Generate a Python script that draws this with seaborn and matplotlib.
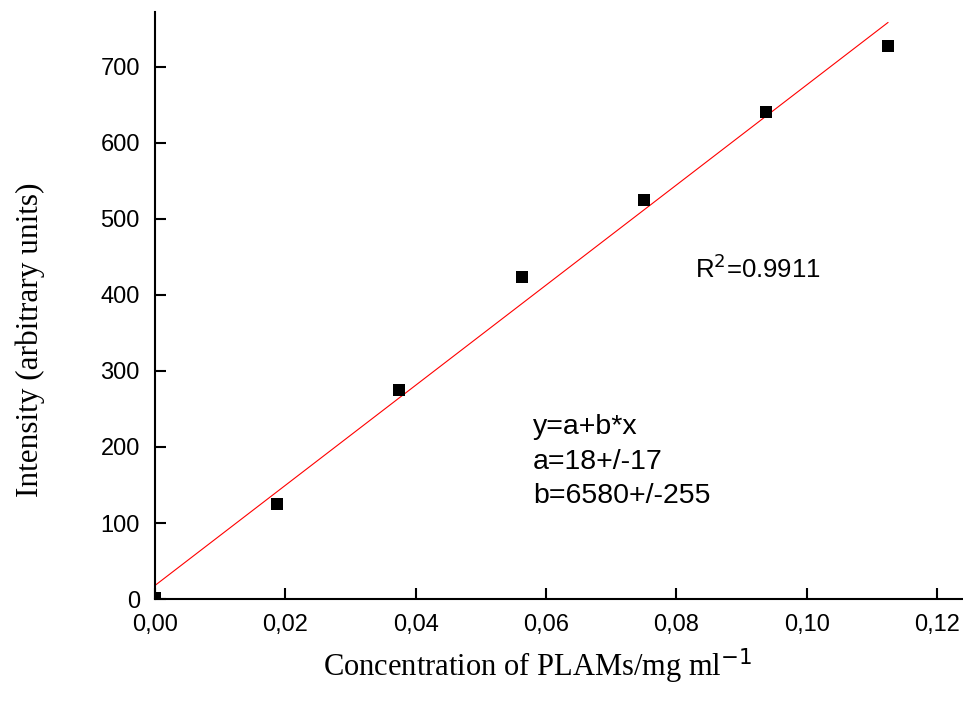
import numpy as np
import pandas as pd
import seaborn as sns
import matplotlib.pyplot as plt
from matplotlib.ticker import FuncFormatter

# measured points
conc = [0.0, 0.01875, 0.0375, 0.05625, 0.075, 0.09375, 0.1125]
intensity = [2, 125, 275, 424, 525, 640, 727]

# linear fit y = a + b*x
fit_a = 18
fit_b = 6580
fit_x = [0.0, 0.1125]

df = pd.DataFrame({"conc": conc, "intensity": intensity})
df_fit = pd.DataFrame({"conc": fit_x})
df_fit["intensity"] = fit_a + fit_b * df_fit["conc"]

sns.set_style("ticks")
plt.rcParams['font.family'] = ['Liberation Sans', 'DejaVu Sans']
plt.rcParams['text.color'] = 'black'
plt.rcParams['xtick.color'] = 'black'
plt.rcParams['ytick.color'] = 'black'
plt.rcParams['axes.edgecolor'] = 'black'

fig = plt.figure(figsize=(9.63, 7.04), dpi=100)
ax = fig.add_axes([0.161, 0.149, 0.839, 0.834])

sns.lineplot(x="conc", y="intensity", data=df_fit, color="red", linewidth=0.8, ax=ax)
sns.scatterplot(x="conc", y="intensity", data=df, marker="s", color="black",
                s=68, edgecolor="black", linewidth=0, ax=ax, zorder=3)

ax.set_xlim(0, 0.124)
ax.set_ylim(0, 772)
ax.set_xticks([0, 0.02, 0.04, 0.06, 0.08, 0.10, 0.12])
ax.set_yticks(range(0, 800, 100))
ax.xaxis.set_major_formatter(FuncFormatter(lambda v, p: f"{v:.2f}".replace(".", ",")))
ax.tick_params(direction="in", length=8, width=1.5, labelsize=17)
ax.tick_params(axis="x", pad=11)
ax.tick_params(axis="y", pad=11)
for s in ["top", "right"]:
    ax.spines[s].set_visible(False)
for s in ["left", "bottom"]:
    ax.spines[s].set_linewidth(1.5)

ax.set_xlabel("Concentration of PLAMs/mg ml$^{-1}$", family="Liberation Serif",
              fontsize=22, va="baseline", color="black")
ax.set_ylabel("Intensity (arbitrary units)", family="Liberation Serif",
              fontsize=22.5, va="center", ha="center", color="black")
ax.xaxis.set_label_coords(0.473, -0.131)
ax.yaxis.set_label_coords(-0.1547, 0.441)

ax.text(0.0828, 435, "R$^2$=0.9911", fontsize=18.5, va="center")
ax.text(0.058, 243, "y=a+b*x\na=18+/-17\nb=6580+/-255", fontsize=20.5, va="top",
        linespacing=1.42)

fig.savefig("out.png", dpi=100)
